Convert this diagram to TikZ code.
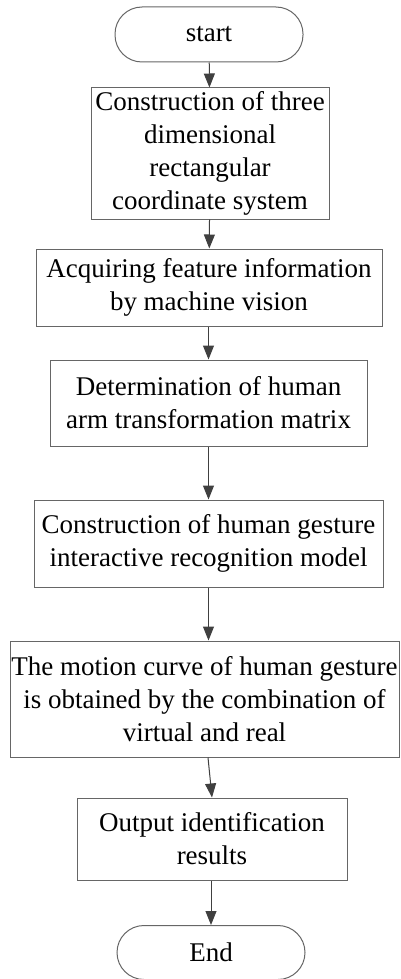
\documentclass[tikz,border=0pt]{standalone}
\usepackage{fontspec}
\setmainfont{Liberation Serif}
\usetikzlibrary{arrows.meta}

\tikzset{
    stepbox/.style={draw=black!60, line width=1pt, align=center,
        inner sep=1pt, font=\fontsize{27}{33}\selectfont},
    termbox/.style={stepbox, rounded corners=27pt},
    flow/.style={draw=black!75, line width=1pt,
        -{Triangle[width=11pt,length=14pt]}}
}

\begin{document}
\begin{tikzpicture}[x=1pt, y=-1pt]
\useasboundingbox (0,0) rectangle (400,979);

% start
\node (start) [termbox,
    minimum width=188pt,
    minimum height=55pt
] at (209,34.5) {start};

% Step 1
\node (coord) [stepbox,
    minimum width=238pt,
    minimum height=131pt
] at (210,153.5) {Construction of three\\dimensional\\rectangular\\coordinate system};

% Step 2
\node (vision) [stepbox,
    minimum width=346pt,
    minimum height=77pt
] at (209,287.5) {Acquiring feature information\\by machine vision};

% Step 3
\node (matrix) [stepbox,
    minimum width=317pt,
    minimum height=86pt
] at (208.5,403) {Determination of human\\arm transformation matrix};

% Step 4
\node (model) [stepbox,
    minimum width=349pt,
    minimum height=87pt
] at (208.5,543.5) {Construction of human gesture\\interactive recognition model};

% Step 5
\node (curve) [stepbox,
    minimum width=389pt,
    minimum height=116pt
] at (204.5,699) {The motion curve of human gesture\\is obtained by the combination of\\virtual and real};

% Step 6
\node (output) [stepbox,
    minimum width=270pt,
    minimum height=82pt
] at (212,839) {Output identification\\results};

% End
\node (stop) [termbox,
    minimum width=188pt,
    minimum height=54pt
] at (211,952.5) {End};

\draw [flow] (start) -- (coord);
\draw [flow] (coord) -- (vision);
\draw [flow] (vision.south -| matrix) -- (matrix);
\draw [flow] (matrix) -- (model);
\draw [flow] (model) -- (curve.north -| model);
\draw [flow] (curve.south) ++(3.5,0) coordinate (c5) -- (output.north);
\draw [flow] (output.south) ++(-1,0) coordinate (c6) -- (stop);

\end{tikzpicture}
\end{document}
